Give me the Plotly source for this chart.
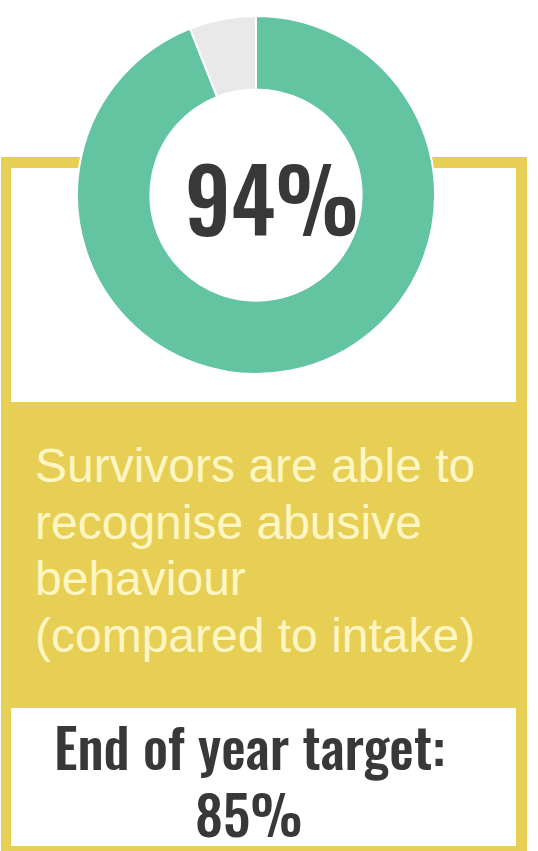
import plotly.graph_objects as go

# ---- data ----
slice_labels = ["Able to recognise abusive behaviour", "Not yet"]
slice_values = [94, 6]
slice_colors = ["#63C4A1", "#E9E9E9"]
headline = "94%"
description_lines = [
    "Survivors are able to",
    "recognise abusive",
    "behaviour",
    "(compared to intake)",
]
target_label = "End of year target:"
target_value = "85%"

# ---- geometry helpers (pixel -> paper) ----
W, H = 538, 851


def px(x):
    return x / W


def py(y):
    return 1 - y / H


YELLOW = "#E6CF54"
CREAM = "#FFF6C4"
DARK = "#383838"
COND = "Oswald, Roboto Condensed, sans-serif"
SANS = "Liberation Sans, Arial, Helvetica, sans-serif"

cx, cy, r_out = 256, 195, 179

fig = go.Figure()
fig.add_trace(
    go.Pie(
        labels=slice_labels,
        values=slice_values,
        hole=0.59,
        sort=False,
        direction="clockwise",
        rotation=0,
        marker=dict(colors=slice_colors, line=dict(color="white", width=2)),
        textinfo="none",
        hoverinfo="label+percent",
        showlegend=False,
        domain=dict(
            x=[px(cx - r_out), px(cx + r_out)],
            y=[py(cy + r_out), py(cy - r_out)],
        ),
    )
)

L0, L1 = 1, 11      # left border
R0, R1 = 516, 527   # right border


def rect(x0, y0, x1, y1, color):
    return dict(
        type="rect", xref="paper", yref="paper", layer="below",
        x0=px(x0), x1=px(x1), y0=py(y1), y1=py(y0),
        fillcolor=color, line=dict(width=0),
    )


shapes = [
    rect(L0, 157, L1, 851, YELLOW),        # left border
    rect(R0, 157, R1, 851, YELLOW),        # right border
    rect(L0, 157, 125, 168, YELLOW),       # top border left part
    rect(385, 157, R1, 168, YELLOW),       # top border right part
    rect(L0, 402, R1, 708, YELLOW),        # description band
    rect(L0, 846, R1, 851, YELLOW),        # bottom border
]

annotations = [
    dict(
        text=headline, x=px(272), y=py(196), xref="paper", yref="paper",
        showarrow=False, xanchor="center", yanchor="middle",
        font=dict(family=COND, size=88, color=DARK, weight=500),
    )
]

baselines = [480, 537, 593, 650]
desc_size = 48
for line, base in zip(description_lines, baselines):
    annotations.append(
        dict(
            text=line, x=px(33), y=py(base - 0.3 * desc_size),
            xref="paper", yref="paper", showarrow=False,
            xanchor="left", yanchor="middle",
            font=dict(family=SANS, size=desc_size, color=CREAM),
        )
    )

annotations.append(
    dict(
        text=target_label, x=px(249), y=py(745), xref="paper", yref="paper",
        showarrow=False, xanchor="center", yanchor="middle",
        font=dict(family=COND, size=55, color=DARK, weight=500),
    )
)
annotations.append(
    dict(
        text=target_value, x=px(248), y=py(812), xref="paper", yref="paper",
        showarrow=False, xanchor="center", yanchor="middle",
        font=dict(family=COND, size=55, color=DARK, weight=500),
    )
)

fig.update_layout(
    width=W, height=H,
    margin=dict(l=0, r=0, t=0, b=0),
    paper_bgcolor="white", plot_bgcolor="white",
    shapes=shapes, annotations=annotations,
)

fig.write_html(
    "out.html",
    config={"displayModeBar": False},
    post_script="document.body.style.margin='0';document.body.style.overflow='hidden';",
)
